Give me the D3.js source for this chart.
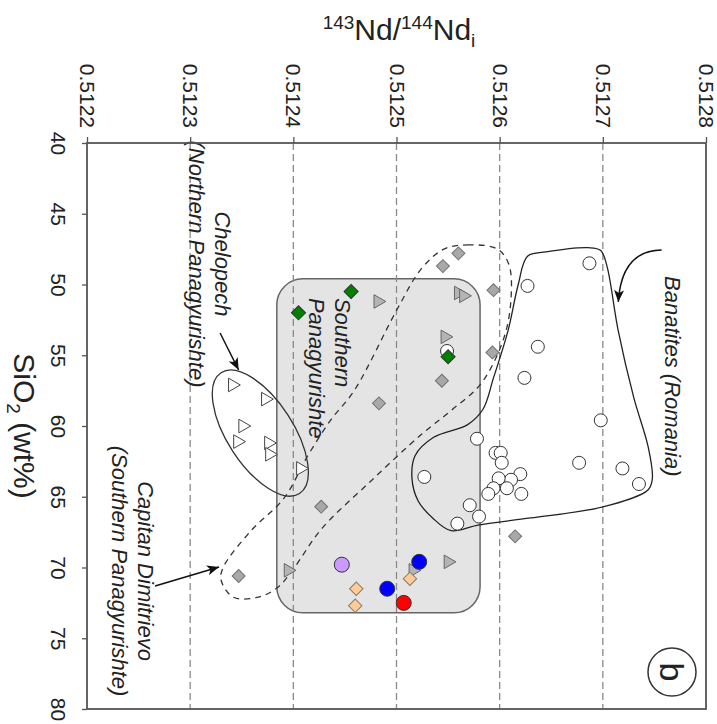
<!DOCTYPE html>
<html>
<head>
<meta charset="utf-8">
<script src="https://cdnjs.cloudflare.com/ajax/libs/d3/7.8.5/d3.min.js"></script>
<style>
body { margin: 0; background: #fff; }
svg { display: block; font-family: "Liberation Sans", Arial, sans-serif; }
</style>
</head>
<body>
<svg id="chart" width="717" height="724"></svg>
<script>
// axis ticks
var ndTicks = [0.5122, 0.5123, 0.5124, 0.5125, 0.5126, 0.5127, 0.5128];
var siTicks = [40, 45, 50, 55, 60, 65, 70, 75, 80];

// samples: [143Nd/144Nd_i, SiO2]
var banatites = [
	[0.512687, 48.5], [0.512627, 50.1], [0.512637, 54.4], [0.512624, 56.6], [0.512698, 59.6],
	[0.512578, 60.9], [0.512596, 61.9], [0.512601, 61.9], [0.512602, 62.6], [0.512527, 63.6],
	[0.512677, 62.6], [0.512719, 63.0], [0.512735, 64.1], [0.512620, 63.4], [0.512611, 63.8],
	[0.512599, 63.7], [0.512607, 64.4], [0.512594, 64.4], [0.512589, 64.8], [0.512621, 64.8],
	[0.512571, 65.6], [0.512580, 66.4], [0.512559, 66.9], [0.512549, 54.7]
];
var capitanDimitrievo = [
	[0.512545, 48.7], [0.512560, 47.8], [0.512594, 50.4], [0.512593, 54.8], [0.512544, 56.8],
	[0.512483, 58.4], [0.512427, 65.7], [0.512615, 67.8], [0.512347, 70.6]
];
var southernPanag = [
	[0.512482, 51.2], [0.512560, 50.6], [0.512565, 50.8], [0.512547, 53.7],
	[0.512550, 69.6], [0.512516, 70.2], [0.512395, 70.2]
];
var chelopech = [
	[0.512341, 57.1], [0.512373, 58.1], [0.512351, 60.0], [0.512346, 61.1],
	[0.512376, 61.2], [0.512377, 62.0], [0.512407, 63.0]
];
var greenDiamonds = [[0.512456, 50.5], [0.512405, 52.0], [0.512550, 55.1]];
var peachDiamonds = [[0.512461, 71.5], [0.512460, 72.7], [0.512513, 70.8]];
var purpleCircles = [[0.512447, 69.8]];
var blueCircles = [[0.512522, 69.6], [0.512491, 71.5]];
var redCircles = [[0.512507, 72.5]];

// field outlines
var banatitesField = [
	[0.512627, 48.0], [0.512645, 47.7], [0.512686, 47.4], [0.512698, 47.6], [0.512704, 48.7],
	[0.512715, 53.3], [0.512730, 58.0], [0.512744, 61.5], [0.512748, 63.7], [0.512744, 64.5],
	[0.512701, 65.7], [0.512630, 66.5], [0.512579, 67.0], [0.512553, 67.4], [0.512535, 66.5],
	[0.512521, 65.3], [0.512515, 63.7], [0.512518, 62.1], [0.512536, 60.8], [0.512569, 59.9],
	[0.512584, 58.8], [0.512594, 56.6], [0.512608, 53.3], [0.512618, 50.0]
];
var capitanField = [
	[0.512546, 47.5], [0.512569, 47.2], [0.512598, 47.5], [0.512609, 48.6], [0.512611, 51.0],
	[0.512604, 53.8], [0.512582, 57.0], [0.512553, 58.9], [0.512524, 60.6], [0.512475, 63.9],
	[0.512427, 67.3], [0.512401, 70.0], [0.512385, 71.4], [0.512366, 72.1], [0.512342, 72.1],
	[0.512330, 70.9], [0.512332, 70.0], [0.512359, 67.4], [0.512391, 65.1], [0.512414, 62.1],
	[0.512436, 59.6], [0.512459, 57.5], [0.512501, 51.7], [0.512524, 48.9]
];
var southernBox = [[0.512384, 49.6], [0.512581, 73.2]];
var chelopechCenter = [0.512368, 60.5];

var svg = d3.select("#chart");
var x = d3.scaleLinear().domain([0.5122, 0.5128]).range([87, 706]);
var y = d3.scaleLinear().domain([40, 80]).range([143, 709]);
var px = function (d) { return [x(d[0]), y(d[1])]; };

var defs = svg.append("defs");
defs.append("marker")
	.attr("id", "arrow")
	.attr("markerUnits", "userSpaceOnUse")
	.attr("markerWidth", 14).attr("markerHeight", 10)
	.attr("refX", 12).attr("refY", 5)
	.attr("orient", "auto")
	.append("path").attr("d", "M0,0 L12,5 L0,10 L3,5 z").attr("fill", "#111");

// southern panagyurishte field
svg.append("rect")
	.attr("x", x(southernBox[0][0]))
	.attr("y", y(southernBox[0][1]))
	.attr("width", x(southernBox[1][0]) - x(southernBox[0][0]))
	.attr("height", y(southernBox[1][1]) - y(southernBox[0][1]))
	.attr("rx", 26)
	.attr("fill", "#e4e4e4")
	.attr("stroke", "#666")
	.attr("stroke-width", 1.5);

// dashed grid
svg.append("g").selectAll("line")
	.data(ndTicks.slice(1, -1))
	.enter().append("line")
	.attr("x1", function (d) { return x(d); })
	.attr("x2", function (d) { return x(d); })
	.attr("y1", y(40)).attr("y2", y(80))
	.attr("stroke", "#8a8a8a")
	.attr("stroke-width", 1.3)
	.attr("stroke-dasharray", "7,4");

var closedLine = d3.line().curve(d3.curveCatmullRomClosed.alpha(0.5));

svg.append("path")
	.attr("d", closedLine(banatitesField.map(px)))
	.attr("fill", "none").attr("stroke", "#222").attr("stroke-width", 1.3);

svg.append("path")
	.attr("d", closedLine(capitanField.map(px)))
	.attr("fill", "none").attr("stroke", "#333").attr("stroke-width", 1.3)
	.attr("stroke-dasharray", "6,5");

var cc = px(chelopechCenter);
svg.append("ellipse")
	.attr("cx", 0).attr("cy", 0).attr("rx", 72).attr("ry", 33)
	.attr("transform", "translate(" + cc[0] + "," + cc[1] + ") rotate(57)")
	.attr("fill", "none").attr("stroke", "#333").attr("stroke-width", 1.3);

// markers
function circles(data, r, fill) {
	svg.append("g").selectAll("circle")
		.data(data)
		.enter().append("circle")
		.attr("cx", function (d) { return x(d[0]); })
		.attr("cy", function (d) { return y(d[1]); })
		.attr("r", r)
		.attr("fill", fill)
		.attr("stroke", "#333")
		.attr("stroke-width", 1);
}
function symbols(data, type, size, angle, fill, stroke) {
	svg.append("g").selectAll("path")
		.data(data)
		.enter().append("path")
		.attr("d", d3.symbol().type(type).size(size))
		.attr("transform", function (d) { return "translate(" + x(d[0]) + "," + y(d[1]) + ") rotate(" + angle + ")"; })
		.attr("fill", fill)
		.attr("stroke", stroke)
		.attr("stroke-width", 1);
}

circles(banatites, 6.5, "#fff");
symbols(chelopech, d3.symbolTriangle, 80, 90, "#fff", "#444");
symbols(southernPanag, d3.symbolTriangle, 80, 90, "#b4b4b4", "#666");
symbols(capitanDimitrievo, d3.symbolSquare, 84, 45, "#a8a8a8", "#707070");
symbols(greenDiamonds, d3.symbolSquare, 100, 45, "#008000", "#333");
symbols(peachDiamonds, d3.symbolSquare, 90, 45, "#ffcc99", "#8a7a66");
circles(purpleCircles, 7.5, "#cc99ff");
circles(blueCircles, 7.5, "#0000ff");
circles(redCircles, 7.5, "#ff0000");

// labels
function label(pos, lines, anchor) {
	var p = px(pos);
	var g = svg.append("g").attr("transform", "translate(" + p[0] + "," + p[1] + ") rotate(90)");
	lines.forEach(function (t, i) {
		g.append("text")
			.attr("x", 0).attr("y", i * 26)
			.attr("dy", "0.35em")
			.attr("text-anchor", anchor)
			.attr("font-size", 22)
			.attr("font-style", "italic")
			.attr("fill", "#222")
			.text(t);
	});
}
label([0.512332, 48.55], ["Chelopech", "(Northern Panagyurishte)"], "middle");
label([0.512257, 70.25], ["Capitan Dimitrievo", "(Southern Panagyurishte)"], "middle");
label([0.512448, 50.95], ["Southern", "Panagyurishte"], "start");
label([0.512768, 49.4], ["Banatites (Romania)"], "start");

// arrows
var arrowLine = d3.line();
svg.append("path")
	.attr("d", arrowLine([[0.512329, 53.43], [0.512347, 56.04]].map(px)))
	.attr("stroke", "#111").attr("stroke-width", 1.5).attr("fill", "none")
	.attr("marker-end", "url(#arrow)");
svg.append("path")
	.attr("d", arrowLine([[0.512266, 71.31], [0.512328, 69.96]].map(px)))
	.attr("stroke", "#111").attr("stroke-width", 1.5).attr("fill", "none")
	.attr("marker-end", "url(#arrow)");
var bs = px([0.512757, 47.56]), bc = px([0.512718, 47.6]), be = px([0.512715, 51.24]);
var bp = d3.path();
bp.moveTo(bs[0], bs[1]);
bp.quadraticCurveTo(bc[0], bc[1], be[0], be[1]);
svg.append("path")
	.attr("d", bp.toString())
	.attr("stroke", "#111").attr("stroke-width", 1.5).attr("fill", "none")
	.attr("marker-end", "url(#arrow)");

// frame
svg.append("rect")
	.attr("x", x(0.5122)).attr("y", y(40))
	.attr("width", x(0.5128) - x(0.5122))
	.attr("height", y(80) - y(40))
	.attr("fill", "none").attr("stroke", "#555").attr("stroke-width", 1.8);

var topAxis = svg.append("g")
	.attr("transform", "translate(0," + y(40) + ")")
	.call(d3.axisTop(x).tickValues(ndTicks).tickSize(6).tickSizeOuter(0).tickFormat(d3.format(".4f")));
topAxis.select(".domain").remove();
topAxis.selectAll("line").attr("stroke", "#555").attr("stroke-width", 1.3);
topAxis.selectAll("text")
	.attr("transform", "rotate(90)")
	.attr("x", -15).attr("y", 0).attr("dy", "0.35em")
	.attr("text-anchor", "end")
	.attr("font-size", 21)
	.attr("font-family", "Liberation Sans, Arial, sans-serif")
	.attr("fill", "#222");

var leftAxis = svg.append("g")
	.attr("transform", "translate(" + x(0.5122) + ",0)")
	.call(d3.axisLeft(y).tickValues(siTicks).tickSize(5).tickSizeOuter(0));
leftAxis.select(".domain").remove();
leftAxis.selectAll("line").attr("stroke", "#555").attr("stroke-width", 1.3);
leftAxis.selectAll("text")
	.attr("transform", "rotate(90)")
	.attr("x", 0).attr("y", 29).attr("dy", "0.35em")
	.attr("text-anchor", "middle")
	.attr("font-size", 21)
	.attr("font-family", "Liberation Sans, Arial, sans-serif")
	.attr("fill", "#222");

// axis titles
var xt = svg.append("text")
	.attr("x", 399).attr("y", 40)
	.attr("text-anchor", "middle")
	.attr("font-size", 30)
	.attr("fill", "#222");
xt.append("tspan").attr("font-size", 19).attr("dy", -11).text("143");
xt.append("tspan").attr("dy", 11).text("Nd/");
xt.append("tspan").attr("font-size", 19).attr("dy", -11).text("144");
xt.append("tspan").attr("dy", 11).text("Nd");
xt.append("tspan").attr("font-size", 19).attr("dy", 7).text("i");

var yt = svg.append("text")
	.attr("transform", "translate(24," + ((y(40) + y(80)) / 2) + ") rotate(90)")
	.attr("dy", "0.35em")
	.attr("text-anchor", "middle")
	.attr("font-size", 30)
	.attr("fill", "#222");
yt.append("tspan").text("SiO");
yt.append("tspan").attr("font-size", 19).attr("dy", 7).text("2");
yt.append("tspan").attr("dy", -7).text(" (wt%)");

// panel label
svg.append("circle")
	.attr("cx", 672).attr("cy", 672).attr("r", 24)
	.attr("fill", "none").attr("stroke", "#333").attr("stroke-width", 1.5);
svg.append("text")
	.attr("transform", "translate(672,672) rotate(90)")
	.attr("dy", "0.35em")
	.attr("text-anchor", "middle")
	.attr("font-size", 34)
	.attr("fill", "#222")
	.text("b");
</script>
</body>
</html>
